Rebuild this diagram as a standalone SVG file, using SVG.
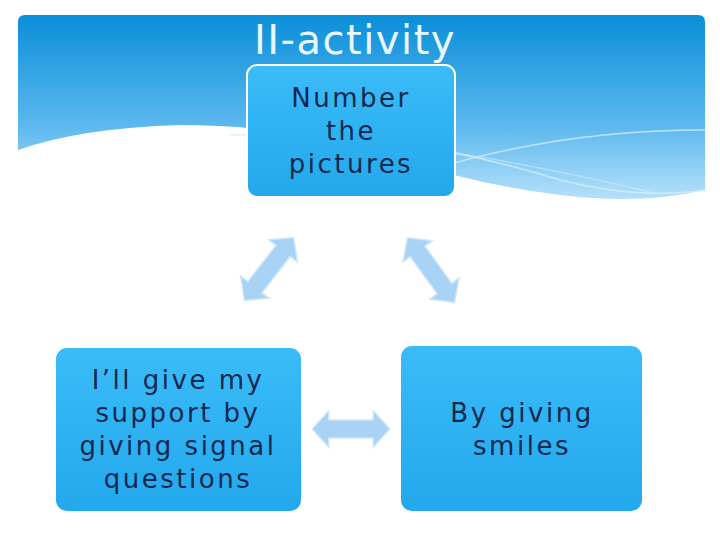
<svg xmlns="http://www.w3.org/2000/svg" width="720" height="540" viewBox="0 0 720 540">
<defs>
<linearGradient id="hg" x1="0" y1="0" x2="0" y2="1">
<stop offset="0" stop-color="#0a8fd8"/><stop offset="0.6" stop-color="#5cb8ee"/><stop offset="1" stop-color="#b5e0fa"/>
</linearGradient>
<linearGradient id="bg" x1="0" y1="0" x2="0" y2="1">
<stop offset="0" stop-color="#3bbcf8"/><stop offset="1" stop-color="#22a8ec"/>
</linearGradient>
<polygon id="da" points="-40,0 -23,-18 -23,-9 23,-9 23,-18 40,0 23,18 23,9 -23,9 -23,18"/>
<style>
.box{fill:url(#bg);stroke:#fff;stroke-width:2}
.t{font-family:"DejaVu Sans",sans-serif;font-size:26px;letter-spacing:2.5px;fill:#142850;text-anchor:middle}
.ar{fill:#a9d3f5;stroke:#cfe6fa;stroke-width:1.5}
</style>
</defs>
<rect width="720" height="540" fill="#fff"/>
<g id="header">
<path d="M18,22 Q18,15 25,15 L698,15 Q705,15 705,22 L705,190 Q640,205 560,195 Q480,185 400,160 Q300,125 180,125 Q80,128 18,150 Z" fill="url(#hg)"/>
<path d="M230,135 Q400,130 560,180 Q640,200 705,190" fill="none" stroke="#d6eefc" stroke-width="1.5" opacity="0.8"/>
<path d="M430,170 Q560,130 705,130" fill="none" stroke="#d6eefc" stroke-width="1.5" opacity="0.8"/>
<path d="M440,150 Q560,170 650,192" fill="none" stroke="#d6eefc" stroke-width="1" opacity="0.7"/>
<text x="355" y="54" font-family="DejaVu Sans,sans-serif" font-size="40" letter-spacing="1.5" fill="#eaf6ff" text-anchor="middle">II-activity</text>
</g>
<g id="connectors">
<use href="#da" class="ar" transform="translate(269,269) rotate(-52)"/>
<use href="#da" class="ar" transform="translate(431,270) rotate(54)"/>
<use href="#da" class="ar" transform="translate(351,429) scale(0.97,1)"/>
</g>
<g id="n1">
<rect class="box" x="247" y="65" width="208" height="132" rx="10"/>
<text class="t" x="351" y="107">Number</text>
<text class="t" x="351" y="140">the</text>
<text class="t" x="351" y="173">pictures</text>
</g>
<g id="n2">
<rect class="box" x="400" y="345" width="243" height="167" rx="12"/>
<text class="t" x="522" y="422">By giving</text>
<text class="t" x="522" y="455">smiles</text>
</g>
<g id="n3">
<rect class="box" x="55" y="347" width="247" height="165" rx="12"/>
<text class="t" x="178" y="389">I’ll give my</text>
<text class="t" x="178" y="422">support by</text>
<text class="t" x="178" y="455">giving signal</text>
<text class="t" x="178" y="488">questions</text>
</g>
</svg>
